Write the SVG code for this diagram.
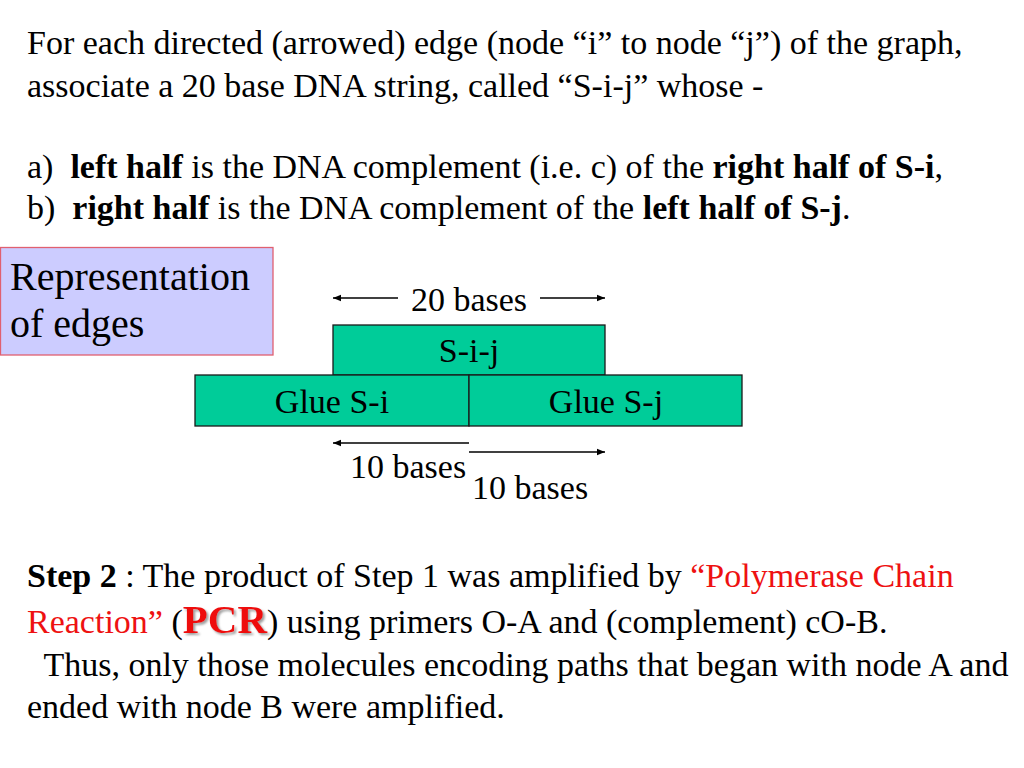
<svg xmlns="http://www.w3.org/2000/svg" width="1024" height="768" viewBox="0 0 1024 768">
<style>
text{font-family:"Liberation Serif","Times New Roman",serif;fill:#000;font-size:34px}
text.big{font-size:40px}
.box{fill:#00cc99;stroke:#1a1a1a;stroke-width:1.3}
.red{fill:#ee1111}
.ar{stroke:#000;stroke-width:1.3;fill:none;marker-end:url(#ah)}
</style>
<defs>
<marker id="ah" viewBox="0 0 10 10" refX="10" refY="5" markerWidth="9" markerHeight="8" markerUnits="userSpaceOnUse" orient="auto">
<path d="M0,1 L10,5 L0,9 z" fill="#000"/>
</marker>
<filter id="sh" x="-10%" y="-10%" width="130%" height="140%">
<feDropShadow dx="2" dy="2" stdDeviation="1" flood-color="#888" flood-opacity="0.8"/>
</filter>
</defs>
<rect width="1024" height="768" fill="#fff"/>
<text x="27" y="54">For each directed (arrowed) edge (node “i” to node “j”) of the graph,</text>
<text x="27" y="97">associate a 20 base DNA string, called “S-i-j” whose -</text>
<text x="27" y="178" xml:space="preserve">a)  <tspan font-weight="bold">left half</tspan> is the DNA complement (i.e. c) of the <tspan font-weight="bold">right half of S-i</tspan>,</text>
<text x="27" y="219" xml:space="preserve">b)  <tspan font-weight="bold">right half</tspan> is the DNA complement of the <tspan font-weight="bold">left half of S-j</tspan>.</text>
<g id="representation">
<rect x="0.5" y="247.5" width="272.5" height="107.5" fill="#ccccff" stroke="#e06070" stroke-width="1.3"/>
<text class="big" x="10" y="290">Representation</text>
<text class="big" x="10" y="337">of edges</text>
</g>
<g id="sij">
<rect class="box" x="333" y="325" width="272" height="50"/>
<text x="469" y="362" text-anchor="middle">S-i-j</text>
</g>
<g id="glue-si">
<rect class="box" x="195" y="375" width="274" height="51"/>
<text x="332" y="413" text-anchor="middle">Glue S-i</text>
</g>
<g id="glue-sj">
<rect class="box" x="469" y="375" width="273" height="51"/>
<text x="606" y="413" text-anchor="middle">Glue S-j</text>
</g>
<g id="connectors">
<line class="ar" x1="398" y1="298" x2="333" y2="298"/>
<line class="ar" x1="540" y1="298" x2="605" y2="298"/>
<line class="ar" x1="469" y1="443" x2="333" y2="443"/>
<line class="ar" x1="469" y1="452" x2="605" y2="452"/>
</g>
<text x="469" y="311" text-anchor="middle">20 bases</text>
<text x="350" y="478">10 bases</text>
<text x="472" y="499">10 bases</text>
<text x="27" y="587"><tspan font-weight="bold">Step 2</tspan> : The product of Step 1 was amplified by <tspan class="red">“Polymerase Chain</tspan></text>
<text x="27" y="633"><tspan class="red">Reaction”</tspan> (<tspan class="red" font-weight="bold" font-size="41" filter="url(#sh)">PCR</tspan>) using primers O-A and (complement) cO-B.</text>
<text x="27" y="676" xml:space="preserve">  Thus, only those molecules encoding paths that began with node A and</text>
<text x="27" y="718">ended with node B were amplified.</text>
</svg>
